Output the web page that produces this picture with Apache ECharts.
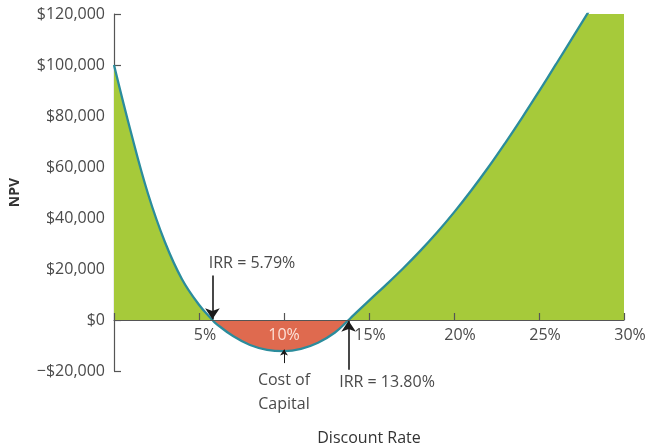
<!DOCTYPE html>
<html>
<head>
<meta charset="utf-8">
<script src="https://cdn.jsdelivr.net/npm/echarts@6/dist/echarts.min.js"></script>
<style>
  html, body { margin: 0; padding: 0; background: #fff; }
  #chart { width: 652px; height: 446px; }
</style>
</head>
<body>
<div id="chart"></div>
<script>
// Discount rate (%) and the project's NPV at that rate
const rates = [0, 1, 2, 3, 4, 5, 5.79, 6, 7, 8, 9, 10, 11, 12, 13, 13.8, 14, 15, 16, 17, 18, 19, 20, 21, 22, 23, 24, 25, 26, 27, 28, 29, 30];
const npv = [100000, 73500, 49500, 30500, 16000, 6000, 0, -1400, -6300, -9800, -11700, -12200, -11300, -8900, -4900, 0, 1300, 7600, 13800, 20200, 27000, 34300, 42200, 50700, 59700, 69300, 79300, 89700, 100300, 111000, 121800, 132700, 143600];

const xTicks = [0, 5, 10, 15, 20, 25, 30];
const yTicks = [-20000, 0, 20000, 40000, 60000, 80000, 100000, 120000];

const irrLow = 5.79;
const irrHigh = 13.8;
const costOfCapital = 10;

const FONT = 'Open Sans';
const TEXT = '#4a4a4a';
const GREEN = '#a6ca3a';
const RED = '#df6a4f';

const GRID = { left: 114, right: 28, top: 14, bottom: 75 };

const points = rates.map((r, i) => [r, npv[i]]);

function money(v) {
  const s = '$' + Math.abs(v).toLocaleString('en-US');
  return v < 0 ? '\u2212' + s : s;
}

function rateLabel(v) {
  if (v === 0) return '';
  if (v === costOfCapital) return '{light|' + v + '%}';
  if (v === 15) return '{mid|' + v + '%}';
  return '{std|' + v + '%}';
}

const chart = echarts.init(document.getElementById('chart'));

chart.setOption({
  animation: false,
  grid: Object.assign({ containLabel: false, outerBoundsMode: 'none' }, GRID),
  xAxis: {
    type: 'value',
    min: xTicks[0], max: xTicks[xTicks.length - 1], interval: 5,
    name: 'Discount Rate',
    nameLocation: 'middle',
    nameGap: 110,
    nameTextStyle: { fontFamily: FONT, fontSize: 16, color: '#333' },
    axisLine: { onZero: false, lineStyle: { color: '#555', width: 1.2 } },
    axisTick: { inside: true, length: 7, lineStyle: { color: '#555', width: 1.2 } },
    splitLine: { show: false },
    axisLabel: {
      margin: 7,
      fontFamily: FONT, fontSize: 16, color: TEXT,
      formatter: rateLabel,
      rich: {
        std: { fontFamily: FONT, fontSize: 16, color: TEXT, padding: [0, 0, 0, 12] },
        mid: { fontFamily: FONT, fontSize: 16, color: TEXT, padding: [0, 0, 0, 2] },
        light: { fontFamily: FONT, fontSize: 16, color: 'rgba(255,235,228,0.92)' }
      }
    },
    z: 5
  },
  yAxis: {
    type: 'value',
    min: yTicks[0], max: yTicks[yTicks.length - 1], interval: 20000,
    name: 'NPV',
    nameLocation: 'middle',
    nameGap: 92,
    nameTextStyle: { fontFamily: FONT, fontSize: 14, fontWeight: 'bold', color: '#333' },
    axisLine: { show: true, onZero: false, lineStyle: { color: '#555', width: 1.2 } },
    axisTick: { show: true, inside: true, length: 7, lineStyle: { color: '#555', width: 1.2 } },
    splitLine: { show: false },
    axisLabel: { margin: 9, fontFamily: FONT, fontSize: 16, color: TEXT, formatter: money }
  },
  series: [
    {
      // filled region between the curve and NPV = 0
      type: 'line',
      data: points,
      smooth: 0.4,
      symbol: 'none',
      lineStyle: { width: 0 },
      areaStyle: { opacity: 1, origin: 0, color: GREEN },
      z: 1
    },
    {
      // NPV profile curve
      type: 'line',
      data: points,
      smooth: 0.4,
      symbol: 'none',
      lineStyle: { color: '#2b8c9c', width: 2.3 },
      z: 3,
      markLine: {
        silent: true,
        symbol: ['none', 'arrow'],
        symbolSize: 11,
        label: { show: false },
        lineStyle: { color: '#1a1a1a', width: 1.6, type: 'solid' },
        data: [
          [{ coord: [irrLow, 17500] }, { coord: [irrLow, 300] }],
          [{ coord: [irrHigh, -19500] }, { coord: [irrHigh, -300] }],
          [{ coord: [costOfCapital, -16900], lineStyle: { width: 1 } },
           { coord: [costOfCapital, -11600], symbolSize: 6 }]
        ]
      }
    }
  ]
});

// Pixel rows of the value axis: top, bottom and the zero line
const topPx = chart.convertToPixel({ gridIndex: 0 }, [0, yTicks[yTicks.length - 1]])[1];
const botPx = chart.convertToPixel({ gridIndex: 0 }, [0, yTicks[0]])[1];
const zeroPx = chart.convertToPixel({ gridIndex: 0 }, [0, 0])[1];

// Fill is green above NPV = 0 and red below
const t = (zeroPx - topPx) / (botPx - topPx);
const split = new echarts.graphic.LinearGradient(0, topPx, 0, botPx, [
  { offset: 0, color: GREEN },
  { offset: t, color: GREEN },
  { offset: t, color: RED },
  { offset: 1, color: RED }
], true);

// Annotation text placed through the chart's own axes
const notes = [
  { text: 'IRR = 5.79%', at: [8.12, 22350] },
  { text: 'IRR = 13.80%', at: [16.06, -24300] },
  { text: 'Cost of\nCapital', at: [costOfCapital, -28600] }
];

chart.setOption({
  // the rate axis (line, ticks, labels) sits on NPV = 0
  xAxis: { offset: zeroPx - botPx },
  series: [{ areaStyle: { color: split } }, {}],
  graphic: notes.map(n => {
    const p = chart.convertToPixel({ gridIndex: 0 }, n.at);
    return {
      type: 'text',
      x: p[0], y: p[1],
      z: 10,
      style: {
        text: n.text,
        fill: TEXT,
        font: '16px "' + FONT + '"',
        lineHeight: 24,
        align: 'center',
        verticalAlign: 'middle'
      }
    };
  })
});
</script>
</body>
</html>
